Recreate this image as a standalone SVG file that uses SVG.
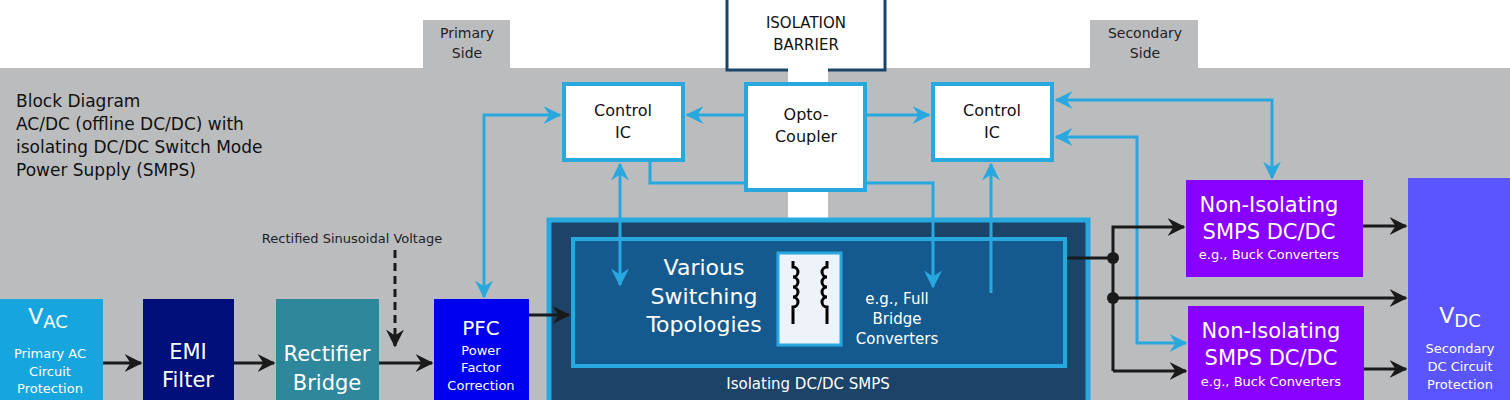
<svg xmlns="http://www.w3.org/2000/svg" width="1510" height="400" viewBox="0 0 1510 400">
<style>
text{font-family:"DejaVu Sans","Verdana",sans-serif}
.w{fill:#fff}.k{fill:#111}
.cbox{fill:#fff;stroke:#29a8e0;stroke-width:4}
.bl{fill:none;stroke:#29a8e0;stroke-width:3}
.bk{fill:none;stroke:#1a1a1a;stroke-width:3}
.mid{text-anchor:middle}
</style>
<defs>
<marker id="ab" viewBox="0 0 12 12" refX="11" refY="6" markerWidth="6" markerHeight="6" orient="auto-start-reverse" markerUnits="strokeWidth"><path d="M0,0 L12,6 L0,12 L4,6 Z" fill="#29a8e0"/></marker>
<marker id="ak" viewBox="0 0 12 12" refX="11" refY="6" markerWidth="6" markerHeight="6" orient="auto-start-reverse" markerUnits="strokeWidth"><path d="M0,0 L12,6 L0,12 L4,6 Z" fill="#1a1a1a"/></marker>
</defs>
<rect x="0" y="0" width="1510" height="400" fill="#fff"/>
<rect x="0" y="68" width="1510" height="332" fill="#bbbcbe"/>
<g id="primary-side"><rect x="423" y="20" width="87" height="48" fill="#bbbcbe"/><text class="mid" x="467" y="38" font-size="14" fill="#222">Primary</text><text class="mid" x="467" y="58" font-size="14" fill="#222">Side</text></g>
<g id="secondary-side"><rect x="1090" y="20" width="108" height="48" fill="#bbbcbe"/><text class="mid" x="1145" y="38" font-size="14" fill="#222">Secondary</text><text class="mid" x="1145" y="58" font-size="14" fill="#222">Side</text></g>
<g id="isolation-barrier"><rect x="727" y="-2" width="158" height="72" fill="#fff" stroke="#1b4468" stroke-width="3"/><rect x="788" y="68" width="40" height="150" fill="#fff"/><text class="mid" x="806" y="28" font-size="15" fill="#111">ISOLATION</text><text class="mid" x="806" y="50" font-size="15" fill="#111">BARRIER</text></g>
<g id="title"><text x="16" y="107" font-size="17" class="k">Block Diagram</text><text x="16" y="130" font-size="17" class="k">AC/DC (offline DC/DC) with</text><text x="16" y="153" font-size="17" class="k">isolating DC/DC Switch Mode</text><text x="16" y="176" font-size="17" class="k">Power Supply (SMPS)</text></g>
<g id="smps-outer"><rect x="549" y="220" width="539" height="185" fill="#1b4468" stroke="#29a8e0" stroke-width="5"/><text class="mid w" x="808" y="389" font-size="15">Isolating DC/DC SMPS</text></g>
<g id="switching-topologies"><rect x="573" y="239" width="492" height="127" fill="#155a8e" stroke="#29a8e0" stroke-width="4"/>
<text class="mid w" x="704" y="275" font-size="22">Various</text><text class="mid w" x="704" y="304" font-size="22">Switching</text><text class="mid w" x="704" y="332" font-size="22">Topologies</text>
<text class="mid w" x="897" y="304" font-size="15">e.g., Full</text><text class="mid w" x="897" y="324" font-size="15">Bridge</text><text class="mid w" x="897" y="344" font-size="15">Converters</text></g>
<g id="transformer"><rect x="778" y="253" width="63" height="92" fill="#eef3fa" stroke="#29a8e0" stroke-width="3"/>
<path d="M793,261 v6 a5,5 0 0 1 0,10 a5,5 0 0 1 0,10 a5,5 0 0 1 0,10 a5,5 0 0 1 0,10 v17 M827,261 v6 a5,5 0 0 0 0,10 a5,5 0 0 0 0,10 a5,5 0 0 0 0,10 a5,5 0 0 0 0,10 v17" fill="none" stroke="#000" stroke-width="3"/></g>
<g id="control-ic-left"><rect class="cbox" x="564" y="84" width="119" height="76"/><text class="mid k" x="623" y="116" font-size="16">Control</text><text class="mid k" x="623" y="138" font-size="16">IC</text></g>
<g id="opto-coupler"><rect class="cbox" x="746" y="84" width="119" height="106"/><text class="mid k" x="806" y="120" font-size="16">Opto-</text><text class="mid k" x="806" y="142" font-size="16">Coupler</text></g>
<g id="control-ic-right"><rect class="cbox" x="933" y="84" width="119" height="76"/><text class="mid k" x="992" y="116" font-size="16">Control</text><text class="mid k" x="992" y="138" font-size="16">IC</text></g>
<g id="vac"><rect x="0" y="299" width="103" height="101" fill="#17a5de"/><text class="mid w" x="48" y="324" font-size="22">V<tspan font-size="18" dy="4">AC</tspan></text><text class="mid w" x="50" y="358" font-size="13">Primary AC</text><text class="mid w" x="50" y="376" font-size="13">Circuit</text><text class="mid w" x="50" y="393" font-size="13">Protection</text></g>
<g id="emi-filter"><rect x="143" y="299" width="91" height="101" fill="#000f7a"/><text class="mid w" x="188" y="359" font-size="21">EMI</text><text class="mid w" x="188" y="387" font-size="21">Filter</text></g>
<g id="rectifier-bridge"><rect x="276" y="299" width="103" height="101" fill="#2f879b"/><text class="mid w" x="327" y="361" font-size="21">Rectifier</text><text class="mid w" x="327" y="390" font-size="21">Bridge</text></g>
<g id="pfc"><rect x="434" y="299" width="95" height="101" fill="#0000f0"/><text class="mid w" x="481" y="335" font-size="20">PFC</text><text class="mid w" x="481" y="355" font-size="13">Power</text><text class="mid w" x="481" y="372" font-size="13">Factor</text><text class="mid w" x="481" y="390" font-size="13">Correction</text></g>
<g id="nonisolating-1"><rect x="1186" y="180" width="177" height="97" fill="#8800ff"/><text class="mid w" x="1269" y="212" font-size="21">Non-Isolating</text><text class="mid w" x="1269" y="239" font-size="21">SMPS DC/DC</text><text class="mid w" x="1269" y="259" font-size="13">e.g., Buck Converters</text></g>
<g id="nonisolating-2"><rect x="1188" y="306" width="176" height="94" fill="#8800ff"/><text class="mid w" x="1271" y="338" font-size="21">Non-Isolating</text><text class="mid w" x="1271" y="365" font-size="21">SMPS DC/DC</text><text class="mid w" x="1271" y="386" font-size="13">e.g., Buck Converters</text></g>
<g id="vdc"><rect x="1408" y="178" width="102" height="222" fill="#5b55ff"/><text class="mid w" x="1460" y="323" font-size="22">V<tspan font-size="18" dy="4">DC</tspan></text><text class="mid w" x="1460" y="353" font-size="13">Secondary</text><text class="mid w" x="1460" y="371" font-size="13">DC Circuit</text><text class="mid w" x="1460" y="389" font-size="13">Protection</text></g>
<g id="label-rectified"><text class="mid" x="352" y="243" font-size="13" fill="#222">Rectified Sinusoidal Voltage</text></g>
<g id="connectors">
<path class="bk" d="M103,363 H141" marker-end="url(#ak)"/>
<path class="bk" d="M234,363 H274" marker-end="url(#ak)"/>
<path class="bk" d="M379,363 H432" marker-end="url(#ak)"/>
<path class="bk" d="M395,250 V346" stroke-dasharray="8,5" marker-end="url(#ak)"/>
<path class="bk" d="M529,315 H569" marker-end="url(#ak)"/>
<path class="bl" d="M484,297 V115 H560" marker-start="url(#ab)" marker-end="url(#ab)"/>
<path class="bl" d="M746,115 H687" marker-end="url(#ab)"/>
<path class="bl" d="M865,115 H929" marker-end="url(#ab)"/>
<path class="bl" d="M620,164 V285" marker-start="url(#ab)" marker-end="url(#ab)"/>
<path class="bl" d="M650,162 V183 H746"/>
<path class="bl" d="M865,183 H933 V287" marker-end="url(#ab)"/>
<path class="bl" d="M991,293 V164" marker-end="url(#ab)"/>
<path class="bl" d="M1056,100 H1272 V178" marker-start="url(#ab)" marker-end="url(#ab)"/>
<path class="bl" d="M1056,137 H1137 V343 H1186" marker-start="url(#ab)" marker-end="url(#ab)"/>
<path class="bk" d="M1067,258 H1113"/>
<path class="bk" d="M1113,371 V227 H1184" marker-end="url(#ak)"/>
<path class="bk" d="M1113,298 H1406" marker-end="url(#ak)"/>
<path class="bk" d="M1113,371 H1186" marker-end="url(#ak)"/>
<path class="bk" d="M1363,226 H1406" marker-end="url(#ak)"/>
<path class="bk" d="M1364,369 H1406" marker-end="url(#ak)"/>
<circle cx="1113" cy="258" r="6" fill="#1a1a1a"/>
<circle cx="1113" cy="298" r="6" fill="#1a1a1a"/>
</g>
</svg>
